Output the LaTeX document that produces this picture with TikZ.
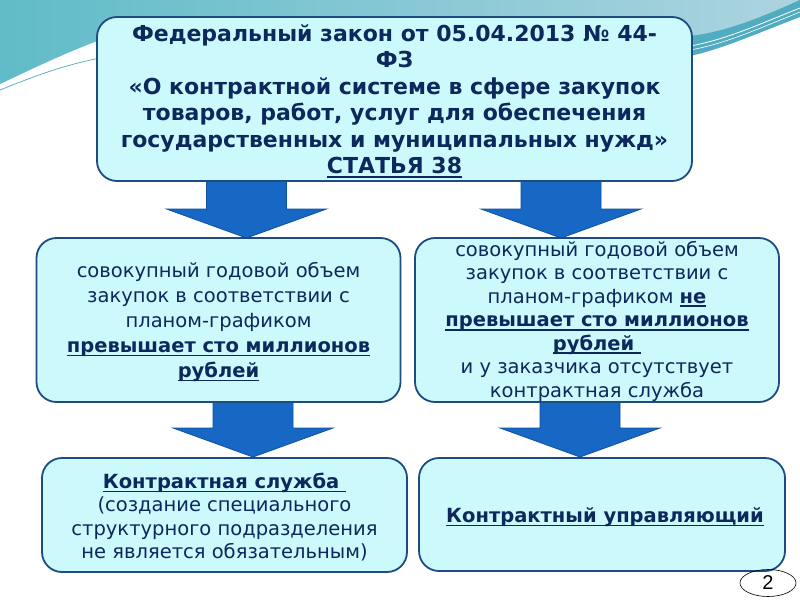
\documentclass[tikz,border=0pt]{standalone}
\usepackage{fontspec}
\setmainfont{DejaVu Sans}
\newfontfamily\numfont{Liberation Sans}
\usetikzlibrary{calc,shapes.geometric}
\definecolor{boxfill}{RGB}{204,249,251}
\definecolor{boxline}{RGB}{28,76,130}
\definecolor{txt}{RGB}{12,40,92}
\definecolor{arrfill}{RGB}{22,104,196}
\definecolor{arrline}{RGB}{16,80,160}
\definecolor{tealL}{RGB}{96,188,200}
\definecolor{tealR}{RGB}{172,212,224}
\definecolor{tealD}{RGB}{80,172,192}
\newcommand\ulx[1]{\leavevmode\setbox0\hbox{#1}\rlap{\rule[-4pt]{\wd0}{1.6pt}}\box0}
\begin{document}
\begin{tikzpicture}[x=1pt,y=-1pt,
  box/.style={draw=boxline, line width=1.8pt, fill=boxfill, rounded corners=20pt, inner sep=0pt},
  txtnode/.style={align=center, text=txt, inner sep=0pt},
  pics/barrow/.style={code={\fill[arrfill, draw=arrline, line width=0.8pt] (-40,0) -- (40,0) -- (40,28) -- (80,28) -- (0,57) -- (-80,28) -- (-40,28) -- cycle;}}
]
\useasboundingbox (0,0) rectangle (800,600);
% background
\fill[white] (0,0) rectangle (800,600);
\shade[left color=tealL, right color=tealR] (0,0) -- (800,0) -- (800,17) .. controls (760,32) and (725,48) .. (690,56) -- (300,56) -- (105,38) .. controls (60,55) and (30,70) .. (0,84) -- cycle;
\fill[tealD] (690,56) .. controls (725,48) and (760,32) .. (800,17) -- (800,0) .. controls (760,18) and (725,32) .. (690,36) -- cycle;
\draw[white, line width=0.8pt] (690,46) .. controls (725,40) and (760,24) .. (800,8);
\draw[white, line width=0.6pt] (690,50) .. controls (725,44) and (760,28) .. (800,12);
\draw[tealD, line width=0.7pt] (0,90) .. controls (30,78) and (60,66) .. (100,58);
% arrows
\coordinate (a1) at (246.5,181);
\coordinate (a2) at (561,181);
\coordinate (a3) at (253,400);
\coordinate (a4) at (580,400);
\pic at (a1) {barrow};
\pic at (a2) {barrow};
\pic at (a3) {barrow};
\pic at (a4) {barrow};
% boxes
\node[box, minimum width=595pt, minimum height=164pt] (law) at (394.5,99) {};
\node[txtnode, font=\fontsize{22}{26.5}\selectfont\bfseries] (lawtxt) at (394.5,101) {Федеральный закон от 05.04.2013 № 44-\\ФЗ\\«О контрактной системе в сфере закупок\\товаров, работ, услуг для обеспечения\\государственных и муниципальных нужд»\\\ulx{СТАТЬЯ 38}};

\node[box, minimum width=364pt, minimum height=164pt] (ml) at (218.5,320) {};
\node[txtnode, font=\fontsize{19.5}{25}\selectfont] (mltxt) at (218.5,322) {совокупный годовой объем\\закупок в соответствии с\\планом-графиком\\\ulx{\bfseries превышает сто миллионов}\\\ulx{\bfseries рублей}};

\node[box, minimum width=364pt, minimum height=164pt] (mr) at (597,320) {};
\node[txtnode, font=\fontsize{19.5}{23.5}\selectfont] (mrtxt) at (597,321) {совокупный годовой объем\\закупок в соответствии с\\планом-графиком \ulx{\bfseries не}\\\ulx{\bfseries превышает сто миллионов}\\\ulx{\bfseries рублей }\\и у заказчика отсутствует\\контрактная служба};

\node[box, minimum width=365pt, minimum height=114pt] (bl) at (224.5,515) {};
\node[txtnode, font=\fontsize{19.5}{23.5}\selectfont] (bltxt) at (224.5,517) {\ulx{\bfseries Контрактная служба }\\(создание специального\\структурного подразделения\\не является обязательным)};

\node[box, minimum width=366pt, minimum height=113pt] (br) at (602,514.5) {};
\node[txtnode, font=\fontsize{19.5}{23.5}\selectfont] (brtxt) at (605,517) {\ulx{\bfseries Контрактный управляющий}};

\node[draw=black, line width=0.6pt, ellipse, minimum width=56pt, minimum height=27pt, inner sep=0pt, font=\numfont\fontsize{20}{20}\selectfont] (pg) at (768,583) {2};
\end{tikzpicture}
\end{document}
